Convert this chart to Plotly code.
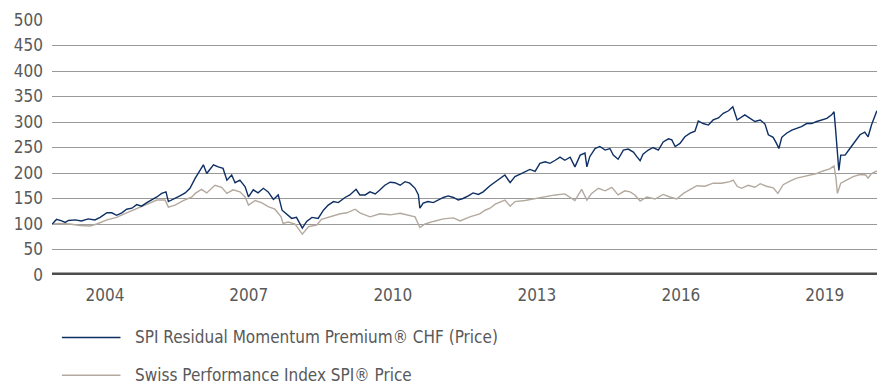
import pandas as pd
import plotly.graph_objects as go

# Observation dates as decimal years, index levels rebased to 100
premium_t = [
    2003.90, 2003.99, 2004.10, 2004.17, 2004.24, 2004.38, 2004.51, 2004.65, 2004.79, 2004.90,
    2005.04, 2005.14, 2005.24, 2005.35, 2005.45, 2005.56, 2005.66, 2005.76, 2005.87, 2005.97,
    2006.08, 2006.18, 2006.27, 2006.32, 2006.39, 2006.46, 2006.56, 2006.67, 2006.77, 2006.88,
    2006.98, 2007.05, 2007.12, 2007.19, 2007.26, 2007.36, 2007.46, 2007.54, 2007.64, 2007.71,
    2007.81, 2007.92, 2007.99, 2008.09, 2008.19, 2008.30, 2008.40, 2008.51, 2008.61, 2008.69,
    2008.79, 2008.89, 2008.99, 2009.11, 2009.20, 2009.31, 2009.44, 2009.55, 2009.65, 2009.76,
    2009.86, 2010.00, 2010.10, 2010.23, 2010.31, 2010.42, 2010.52, 2010.63, 2010.73, 2010.83,
    2010.94, 2011.04, 2011.15, 2011.25, 2011.35, 2011.46, 2011.53, 2011.56, 2011.63, 2011.73,
    2011.84, 2011.94, 2012.05, 2012.15, 2012.26, 2012.36, 2012.46, 2012.57, 2012.67, 2012.78,
    2012.88, 2013.02, 2013.13, 2013.23, 2013.33, 2013.44, 2013.54, 2013.65, 2013.75, 2013.85,
    2013.96, 2014.06, 2014.17, 2014.27, 2014.38, 2014.48, 2014.58, 2014.69, 2014.79, 2014.90,
    2015.00, 2015.04, 2015.10, 2015.21, 2015.31, 2015.42, 2015.52, 2015.59, 2015.69, 2015.80,
    2015.90, 2016.01, 2016.08, 2016.15, 2016.21, 2016.32, 2016.42, 2016.53, 2016.63, 2016.74,
    2016.81, 2016.88, 2016.98, 2017.08, 2017.19, 2017.29, 2017.36, 2017.46, 2017.57, 2017.67,
    2017.78, 2017.88, 2017.99, 2018.08, 2018.17, 2018.23, 2018.33, 2018.44, 2018.54, 2018.65,
    2018.75, 2018.82, 2018.92, 2018.99, 2019.04, 2019.10, 2019.20, 2019.31, 2019.41, 2019.51,
    2019.62, 2019.72, 2019.83, 2019.93, 2020.04, 2020.14, 2020.19, 2020.22, 2020.26, 2020.29,
    2020.33, 2020.42, 2020.52, 2020.63, 2020.73, 2020.83, 2020.90, 2020.97, 2021.04, 2021.08,
]
premium_v = [
    100, 109, 106, 103, 107, 108, 106, 110, 108, 113,
    122, 122, 117, 122, 129, 131, 138, 135, 142, 147,
    153, 160, 163, 144, 147, 150, 155, 161, 170, 190,
    205, 216, 199, 207, 216, 212, 209, 186, 196, 181,
    186, 173, 153, 167, 161, 170, 163, 148, 157, 127,
    118, 111, 113, 92, 105, 113, 111, 127, 137, 144,
    142, 152, 157, 168, 157, 157, 163, 159, 167, 176,
    182, 181, 176, 183, 180, 170, 157, 131, 141, 144,
    142, 147, 152, 155, 152, 147, 150, 155, 161, 158,
    163, 175, 183, 190, 196, 181, 193, 198, 203, 207,
    203, 219, 222, 219, 225, 231, 225, 231, 212, 235,
    239, 212, 232, 248, 252, 245, 248, 235, 227, 245,
    247, 241, 232, 224, 237, 245, 250, 245, 261, 267,
    265, 252, 258, 271, 278, 282, 302, 297, 294, 304,
    308, 317, 322, 330, 304, 308, 314, 307, 301, 304,
    296, 275, 270, 258, 248, 270, 278, 284, 288, 291,
    297, 297, 301, 304, 307, 314, 320, 288, 235, 205,
    235, 235, 248, 261, 275, 280, 271, 294, 310, 322,
]

spi_t = [
    2003.90, 2004.06, 2004.27, 2004.48, 2004.69, 2004.83, 2005.04, 2005.24, 2005.45, 2005.66,
    2005.87, 2006.08, 2006.25, 2006.32, 2006.46, 2006.63, 2006.81, 2006.88, 2007.01, 2007.12,
    2007.29, 2007.43, 2007.54, 2007.67, 2007.81, 2007.92, 2007.99, 2008.13, 2008.26, 2008.40,
    2008.54, 2008.67, 2008.71, 2008.82, 2008.96, 2009.11, 2009.24, 2009.41, 2009.51, 2009.65,
    2009.79, 2009.90, 2010.04, 2010.21, 2010.31, 2010.52, 2010.73, 2010.94, 2011.15, 2011.32,
    2011.46, 2011.56, 2011.67, 2011.84, 2012.05, 2012.26, 2012.40, 2012.60, 2012.81, 2012.92,
    2013.02, 2013.13, 2013.33, 2013.44, 2013.54, 2013.75, 2013.96, 2014.17, 2014.38, 2014.58,
    2014.79, 2014.93, 2015.04, 2015.14, 2015.28, 2015.42, 2015.56, 2015.69, 2015.83, 2015.94,
    2016.04, 2016.15, 2016.29, 2016.46, 2016.63, 2016.77, 2016.91, 2017.05, 2017.19, 2017.33,
    2017.50, 2017.67, 2017.85, 2018.02, 2018.09, 2018.17, 2018.26, 2018.40, 2018.54, 2018.65,
    2018.78, 2018.92, 2019.02, 2019.13, 2019.27, 2019.41, 2019.55, 2019.69, 2019.83, 2019.96,
    2020.10, 2020.19, 2020.23, 2020.26, 2020.33, 2020.45, 2020.59, 2020.73, 2020.85, 2020.90,
    2020.97, 2021.08,
]
spi_v = [
    100, 101, 100, 97, 96, 100, 108, 113, 122, 130,
    139, 147, 147, 133, 137, 146, 153, 160, 168, 161,
    176, 172, 160, 167, 163, 153, 137, 146, 142, 134,
    129, 114, 101, 104, 100, 80, 95, 98, 109, 113,
    117, 120, 122, 129, 122, 114, 120, 118, 121, 117,
    114, 93, 100, 105, 110, 112, 106, 114, 120, 127,
    131, 139, 147, 135, 144, 146, 150, 153, 157, 159,
    146, 168, 147, 160, 170, 165, 172, 157, 165, 163,
    157, 145, 153, 149, 158, 153, 149, 160, 167, 175,
    174, 180, 180, 183, 186, 174, 170, 176, 172, 179,
    174, 171, 160, 177, 184, 190, 193, 196, 199, 204,
    208, 214, 190, 160, 180, 186, 193, 197, 196, 190,
    199, 204,
]

year_labels = [2004, 2007, 2010, 2013, 2016, 2019]
y_ticks = list(range(0, 501, 50))
x_start, x_end = 2003.896, 2021.083

series_names = [
    "SPI Residual Momentum Premium® CHF (Price)",
    "Swiss Performance Index SPI® Price",
]
series_colors = ["#0d2f64", "#b3a99f"]


def to_date(t):
    year = int(t)
    return pd.Timestamp(year=year, month=1, day=1) + pd.Timedelta(days=(t - year) * 365.25)


FONT = "DejaVu Sans Condensed, Roboto, sans-serif"
TEXT_COLOR = "#595959"

fig = go.Figure()
# SPI drawn first so the premium line sits on top
for t, v, name, color in [
    (spi_t, spi_v, series_names[1], series_colors[1]),
    (premium_t, premium_v, series_names[0], series_colors[0]),
]:
    fig.add_trace(go.Scatter(
        x=[to_date(d) for d in t], y=v, mode="lines", name=name,
        line=dict(color=color, width=1.4), showlegend=False,
    ))

fig.update_layout(
    width=877, height=385,
    margin=dict(l=52, r=0, t=20, b=110),
    paper_bgcolor="white", plot_bgcolor="white",
    font=dict(family=FONT, size=17, color=TEXT_COLOR),
)
fig.update_xaxes(
    range=[to_date(x_start), to_date(x_end)],
    tickvals=[pd.Timestamp(year=y, month=12, day=31) for y in year_labels],
    ticktext=[str(y) for y in year_labels],
    showgrid=False, zeroline=False, showline=False, ticks="",
    ticklabelstandoff=8,
)
fig.update_yaxes(
    range=[0, 500], tickvals=y_ticks,
    showgrid=True, gridcolor="#9a9a9a", gridwidth=1,
    zeroline=False, showline=False, ticks="",
    ticklabelstandoff=8,
)

# heavy baseline at zero
fig.add_shape(type="line", xref="paper", yref="y", x0=0, x1=1, y0=0, y1=0,
              line=dict(color="#4d4d4d", width=5), layer="above")

# legend rows beneath the chart
for i, (name, color) in enumerate(zip(series_names, series_colors)):
    py = -0.245 - i * 0.148
    fig.add_shape(type="line", xref="paper", yref="paper",
                  x0=0.012, x1=0.083, y0=py, y1=py,
                  line=dict(color=color, width=1.5))
    fig.add_annotation(xref="paper", yref="paper", x=0.098, y=py,
                       text=name, showarrow=False, xanchor="left", yanchor="middle",
                       font=dict(family=FONT, size=17, color=TEXT_COLOR))

fig.write_html("out.html")
